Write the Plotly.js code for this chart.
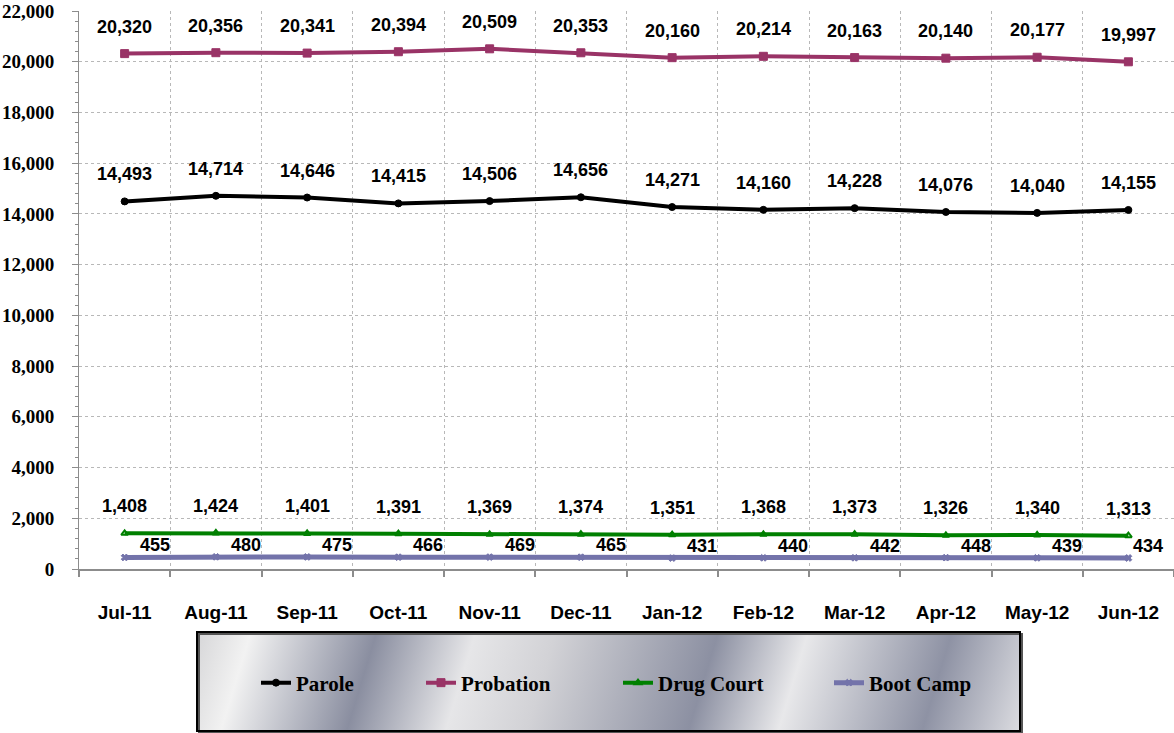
<!DOCTYPE html>
<html><head><meta charset="utf-8">
<script src="https://cdn.plot.ly/plotly-3.0.1.min.js"></script>
<style>html,body{margin:0;padding:0;background:#fff}#chart{width:1174px;height:733px}</style>
</head><body><div id="chart"></div>
<script>
const months = ['Jul-11','Aug-11','Sep-11','Oct-11','Nov-11','Dec-11','Jan-12','Feb-12','Mar-12','Apr-12','May-12','Jun-12'];
const parole = [14493,14714,14646,14415,14506,14656,14271,14160,14228,14076,14040,14155];
const probation = [20320,20356,20341,20394,20509,20353,20160,20214,20163,20140,20177,19997];
const drugCourt = [1408,1424,1401,1391,1369,1374,1351,1368,1373,1326,1340,1313];
const bootCamp = [455,480,475,466,469,465,431,440,442,448,439,434];
const seriesNames = ['Parole','Probation','Drug Court','Boot Camp'];

const sans = '"Liberation Sans",Arial,sans-serif';
const serif = '"Liberation Serif","Times New Roman",serif';

const styles = [
  {color:'#000000', symbol:'circle', size:7, width:4},
  {color:'#993366', symbol:'square', size:8, width:4},
  {color:'#008000', symbol:'triangle-up-open', size:6, width:4},
  {color:'#7373aa', symbol:'x', size:6, width:5}
];
const allSeries = [parole, probation, drugCourt, bootCamp];
const legendIds = ['legend','legend2','legend3','legend4'];
const legendLeftPx = [256, 421, 618, 829];

const traces = allSeries.map((vals, k) => ({
  type:'scatter', mode:'lines+markers', name: seriesNames[k],
  x: months, y: vals, legend: legendIds[k],
  line:{color: styles[k].color, width: styles[k].width},
  marker:{symbol: styles[k].symbol, size: styles[k].size, color: styles[k].color,
          line:{color: styles[k].color, width: k===2?2:1}},
  cliponaxis:false
}));

const fmt = v => v.toLocaleString('en-US');
const annotations = [];
allSeries.forEach((vals, k) => {
  vals.forEach((v, i) => {
    const isBoot = k === 3;
    annotations.push({
      x: months[i], y: v, xref:'x', yref:'y', text: fmt(v), showarrow:false,
      xshift: isBoot ? (i === vals.length-1 ? 20 : 30) : 0,
      yshift: isBoot ? 12 : 27,
      font:{family: sans, size:18, color:'#000', weight:'bold'}
    });
  });
});

// legend box geometry in paper coords (plot area l=79,w=1095,t=11,h=558)
const bx0 = (197-79)/1095, bx1 = (1020-79)/1095;
const by0 = (569-731)/558, by1 = (569-632)/558;

const svg = '<svg xmlns="http://www.w3.org/2000/svg" width="823" height="99" viewBox="0 0 823 99" preserveAspectRatio="none">' +
 '<defs><linearGradient id="g" gradientUnits="userSpaceOnUse" x1="0" y1="0" x2="823" y2="250">' +
 '<stop offset="0" stop-color="#d6d6d8"/>' +
 '<stop offset="0.06" stop-color="#f2f2f2"/>' +
 '<stop offset="0.2" stop-color="#8a8ea0"/>' +
 '<stop offset="0.31" stop-color="#e6e6e8"/>' +
 '<stop offset="0.4" stop-color="#d2d2d6"/>' +
 '<stop offset="0.58" stop-color="#8c90a2"/>' +
 '<stop offset="0.68" stop-color="#e8e8ea"/>' +
 '<stop offset="0.84" stop-color="#8e92a4"/>' +
 '<stop offset="0.97" stop-color="#eaeaec"/>' +
 '<stop offset="1" stop-color="#e0e0e2"/>' +
 '</linearGradient></defs><rect width="823" height="99" fill="url(#g)"/></svg>';
const svgUri = 'data:image/svg+xml;charset=utf-8,' + encodeURIComponent(svg);

const layout = {
  width:1174, height:733,
  margin:{l:79, r:0, t:11, b:164, pad:0},
  paper_bgcolor:'#ffffff', plot_bgcolor:'#ffffff',
  showlegend:true,
  xaxis:{type:'category', range:[-0.5, 11.5], tickson:'boundaries',
         showgrid:true, gridcolor:'#b8b8b8', griddash:'dot', gridwidth:1,
         showline:true, linecolor:'#8c8c8c', linewidth:2,
         ticks:'outside', ticklen:6, tickcolor:'#8c8c8c', tickwidth:2,
         ticklabelstandoff:25,
         tickfont:{family: sans, size:19, color:'#000', weight:'bold'},
         zeroline:false, fixedrange:true},
  yaxis:{range:[0,22000], dtick:2000, tick0:0, tickformat:',d',
         showgrid:true, gridcolor:'#b8b8b8', griddash:'dot', gridwidth:1,
         showline:true, linecolor:'#8c8c8c', linewidth:1,
         ticks:'outside', ticklen:6, tickcolor:'#8c8c8c', tickwidth:1,
         ticklabelstandoff:14,
         minor:{dtick:400, ticks:'outside', ticklen:3, tickcolor:'#8c8c8c', showgrid:false},
         tickfont:{family: serif, size:19, color:'#000', weight:'bold'},
         zeroline:false, fixedrange:true},
  images:[{source: svgUri, xref:'paper', yref:'paper', x:bx0, y:by1, sizex:bx1-bx0, sizey:by1-by0,
           sizing:'stretch', xanchor:'left', yanchor:'top', layer:'below'}],
  shapes:[
    {type:'rect', xref:'paper', yref:'paper', x0:bx0+2/1095, x1:bx1+2/1095, y0:by0-2/558, y1:by1-2/558,
     line:{color:'#555', width:2}, fillcolor:'rgba(0,0,0,0)', layer:'below'},
    {type:'rect', xref:'paper', yref:'paper', x0:bx0, x1:bx1, y0:by0, y1:by1,
     line:{color:'#000', width:2}, fillcolor:'rgba(0,0,0,0)', layer:'above'}
  ],
  annotations: annotations
};
legendIds.forEach((id, k) => {
  layout[id] = {orientation:'h', x:(legendLeftPx[k]-79)/1095, y:(569-683)/558,
    xanchor:'left', yanchor:'middle', bgcolor:'rgba(0,0,0,0)', borderwidth:0,
    font:{family: serif, size:21, color:'#000', weight:'bold'}};
});

Plotly.newPlot('chart', traces, layout, {displayModeBar:false, staticPlot:true});
</script></body></html>
